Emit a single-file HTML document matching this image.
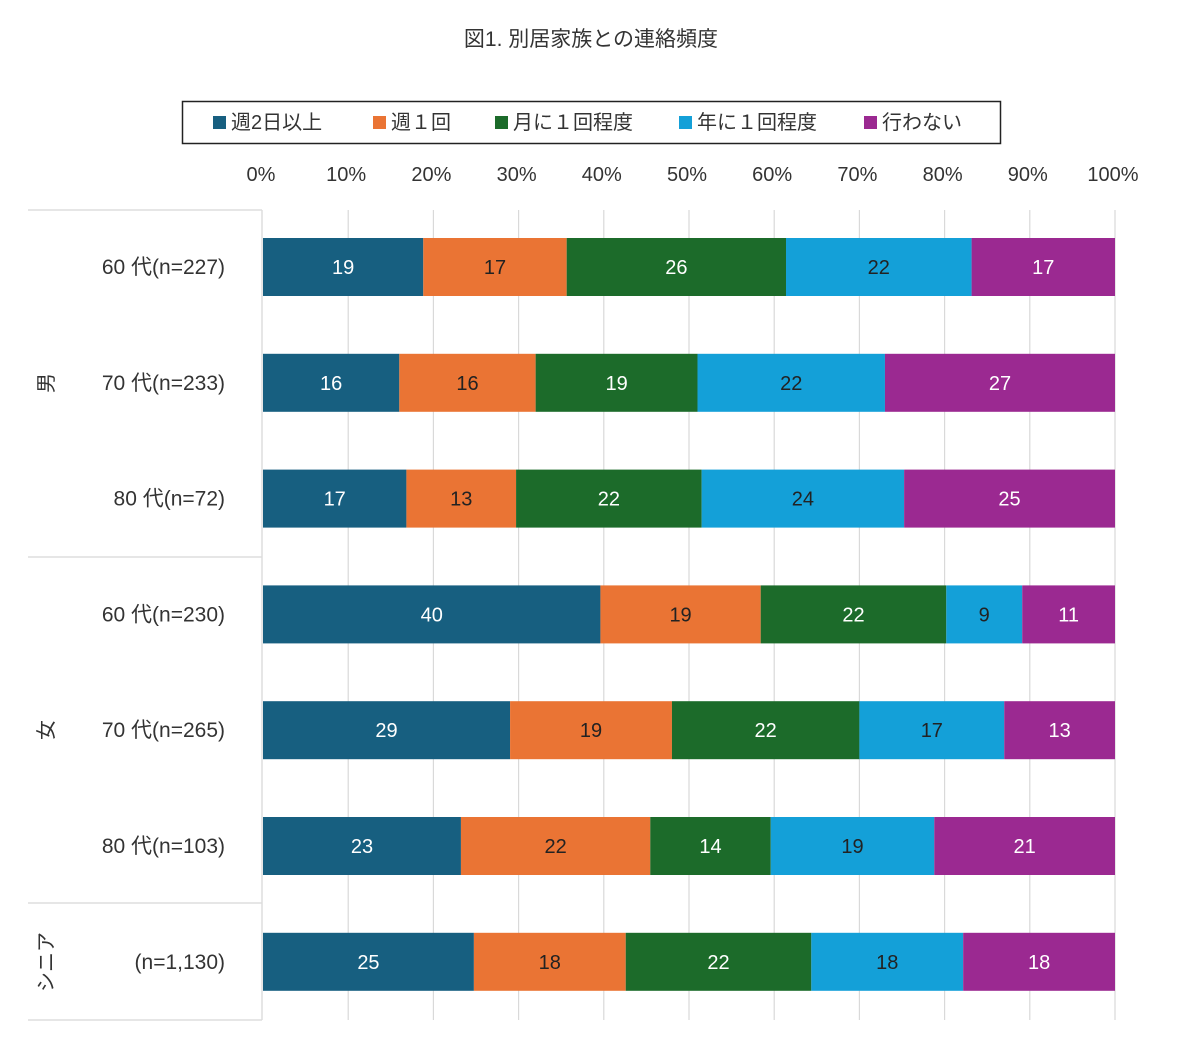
<!DOCTYPE html>
<html><head><meta charset="utf-8">
<style>
html,body{margin:0;padding:0;background:#fff;}
svg{display:block;font-family:"Liberation Sans","Noto Sans CJK JP",sans-serif;}
</style></head>
<body>
<svg id="chart" width="1200" height="1052" viewBox="0 0 1200 1052" xmlns="http://www.w3.org/2000/svg">
<text x="591" y="46" text-anchor="middle" font-size="21" fill="#333">図1. 別居家族との連絡頻度</text>
<rect x="182.5" y="101.5" width="818" height="42" fill="#fff" stroke="#222" stroke-width="1.5"/>
<g id="legend"></g>
<g id="grid"></g>
<g id="xticks"></g>
<g id="table">
<line x1="28" y1="210" x2="262" y2="210" stroke="#ddd" stroke-width="1.5"/>
<line x1="28" y1="557" x2="262" y2="557" stroke="#ddd" stroke-width="1.5"/>
<line x1="28" y1="903" x2="262" y2="903" stroke="#ddd" stroke-width="1.5"/>
<line x1="28" y1="1020" x2="262" y2="1020" stroke="#ddd" stroke-width="1.5"/>
<line x1="262" y1="210" x2="262" y2="1020" stroke="#ddd" stroke-width="1.5"/>
<text transform="translate(53,383) rotate(-90)" text-anchor="middle" font-size="20" fill="#333">男</text>
<text transform="translate(53,730) rotate(-90)" text-anchor="middle" font-size="20" fill="#333">女</text>
<text transform="translate(53,962) rotate(-90)" text-anchor="middle" font-size="20" fill="#333">シニア</text>
</g>
<g id="bars"></g>
</svg>
<script>
const categories = ["60 代(n=227)","70 代(n=233)","80 代(n=72)","60 代(n=230)","70 代(n=265)","80 代(n=103)","(n=1,130)"];
const seriesNames = ["週2日以上","週１回","月に１回程度","年に１回程度","行わない"];
const s1 = [19,16,17,40,29,23,25];
const s2 = [17,16,13,19,19,22,18];
const s3 = [26,19,22,22,22,14,22];
const s4 = [22,22,24,9,17,19,18];
const s5 = [17,27,25,11,13,21,18];
const tickLabels = ["0%","10%","20%","30%","40%","50%","60%","70%","80%","90%","100%"];
const tickValues = [0,10,20,30,40,50,60,70,80,90,100];
const colors = ["#175f80","#ea7434","#1c6b2a","#14a0d8","#9b2991"];
const series=[s1,s2,s3,s4,s5];
const NS="http://www.w3.org/2000/svg";
const X0=263,X1=1115,Y0=267,ROW=115.8,BH=58;
const xs=v=>X0+(X1-X0)*v/100;
const ys=i=>Y0+i*ROW;
function mk(t,a,p){const e=document.createElementNS(NS,t);for(const k in a)e.setAttribute(k,a[k]);p.appendChild(e);return e;}
const grid=document.getElementById('grid'),xt=document.getElementById('xticks');
tickValues.forEach((v,i)=>{
  if(v>0){const l=mk('line',{x1:xs(v),x2:xs(v),y1:210,y2:1020,stroke:'#d9d9d9','stroke-width':1.2},grid);
  
  }
  const t=mk('text',{x:xs(v)-2,y:181,'text-anchor':'middle','font-size':20,fill:'#333'},xt);
  t.textContent=tickLabels[i];
  
  
});
const tbl=document.getElementById('table');
categories.forEach((c,i)=>{
  const t=mk('text',{x:225,y:ys(i)+7,'text-anchor':'end','font-size':21,fill:'#333'},tbl);
  t.textContent=c;
  
  
});
const bars=document.getElementById('bars');
categories.forEach((c,i)=>{
  let sum=0;series.forEach(s=>sum+=s[i]);
  let cum=0;
  series.forEach((s,j)=>{
    const a=xs(cum/sum*100),b=xs((cum+s[i])/sum*100);cum+=s[i];
    const r=mk('rect',{x:a,y:ys(i)-BH/2,width:b-a,height:BH,fill:colors[j]},bars);
    
    
    const t=mk('text',{x:(a+b)/2,y:ys(i)+7,'text-anchor':'middle','font-size':20,fill:(j==1||j==3)?'#222':'#fff'},bars);
    t.textContent=s[i];
    
    
  });
});
const lg=document.getElementById('legend');
const lx=[213,373,495,679,864];
seriesNames.forEach((n,j)=>{
  const r=mk('rect',{x:lx[j],y:116,width:13,height:13,fill:colors[j]},lg);
  
  
  const t=mk('text',{x:lx[j]+18,y:129,'font-size':20,fill:'#333'},lg);
  t.textContent=n;
  
  
});
</script>
</body></html>
